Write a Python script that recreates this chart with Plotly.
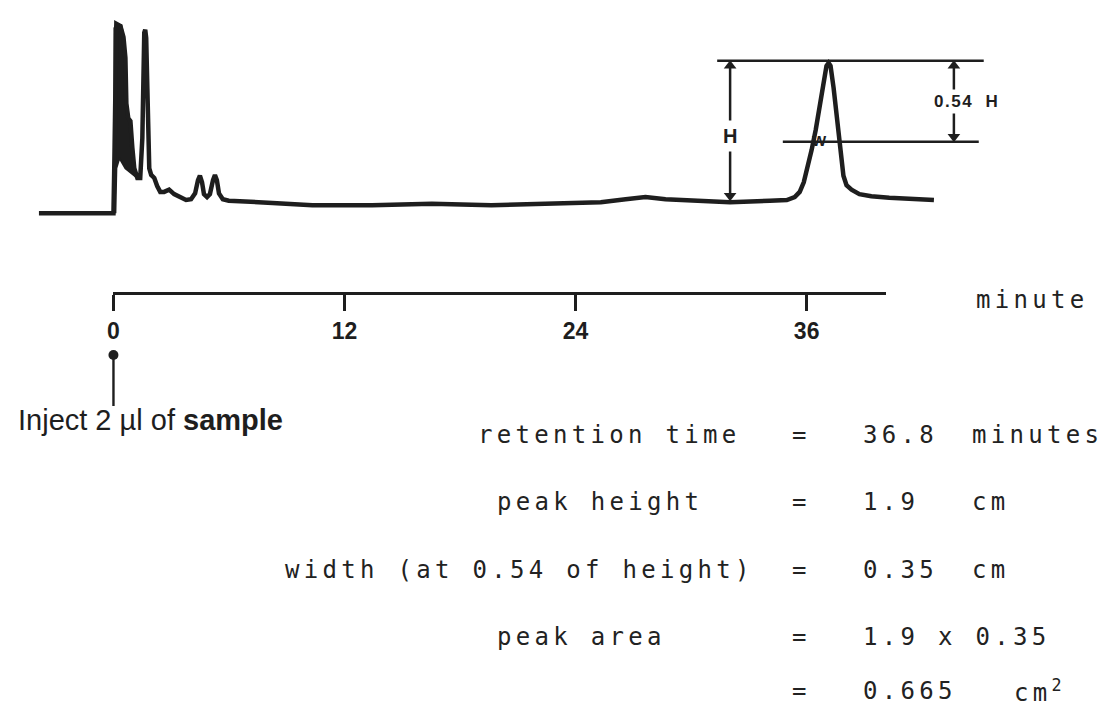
import plotly.graph_objects as go

# ---------------- data ----------------
# chromatogram trace: retention time (minutes) vs recorder response (cm of chart)
time_min = [-3.87, 0.00, 0.05, 0.10, 0.15, 0.36, 0.52, 0.62, 0.67, 0.77,
            0.88, 0.98, 1.08, 1.24, 1.39, 1.50, 1.55, 1.60, 1.65, 1.70,
            1.76, 1.81, 1.86, 1.96, 2.12, 2.27, 2.43, 2.63, 2.89, 3.15,
            3.46, 3.77, 4.03, 4.24, 4.39, 4.49, 4.60, 4.70, 4.86, 5.01,
            5.17, 5.27, 5.37, 5.48, 5.68, 5.99, 8.26, 10.33, 13.43, 16.53,
            19.63, 22.73, 25.31, 26.60, 27.63, 28.67, 29.96, 32.02, 34.09, 34.97,
            35.38, 35.64, 35.85, 36.05, 36.26, 36.47, 36.67, 36.88, 37.03, 37.14,
            37.24, 37.40, 37.55, 37.71, 37.81, 37.91, 38.07, 38.33, 38.74, 39.36,
            40.29, 41.32, 42.61]
response_cm = [0.01, 0.01, 0.76, 2.46, 2.58, 2.55, 2.40, 2.12, 1.50, 1.30,
               1.26, 0.90, 0.62, 0.49, 0.49, 1.03, 1.98, 2.46, 2.50, 2.39,
               1.71, 0.90, 0.62, 0.53, 0.49, 0.38, 0.30, 0.30, 0.33, 0.27,
               0.23, 0.19, 0.20, 0.28, 0.46, 0.52, 0.43, 0.27, 0.23, 0.27,
               0.46, 0.53, 0.46, 0.28, 0.20, 0.18, 0.15, 0.12, 0.12, 0.14,
               0.12, 0.14, 0.16, 0.20, 0.23, 0.20, 0.18, 0.16, 0.18, 0.19,
               0.23, 0.30, 0.43, 0.62, 0.87, 1.14, 1.44, 1.78, 2.01, 2.05,
               2.01, 1.71, 1.37, 1.03, 0.76, 0.52, 0.39, 0.33, 0.27, 0.24,
               0.22, 0.20, 0.19]

# outline of the solid, over-inked solvent-peak cluster just after injection
blob_time = [0.05, 0.05, 0.15, 0.41, 0.52, 0.62, 0.67, 0.77, 0.88, 0.98,
             1.08, 1.24, 0.62, 0.31, 0.15, 0.10]
blob_resp = [0.01, 2.52, 2.58, 2.56, 2.42, 2.14, 1.51, 1.30, 1.26, 0.90,
             0.62, 0.49, 0.62, 0.76, 0.62, 0.01]

tick_minutes = [0, 12, 24, 36]
tick_labels = ["0", "12", "24", "36"]

peak_top_cm = 2.08        # level of the peak maximum
peak_base_cm = 0.18       # baseline under the peak
half_level_cm = 0.98      # level at which the width is measured

result_labels = ["retention time", "peak height", "width (at 0.54 of height)", "peak area", ""]
result_values = ["36.8", "1.9", "0.35", "1.9 x 0.35", "0.665"]
result_units = ["minutes", "cm", "cm", "", "cm<sup>2</sup>"]

inject_text = "Inject 2 \u00b5l of <b>sample</b>"
axis_unit = "minute"

# ---------------- geometry / styling ----------------
W, H = 1110, 706
X0_PX, PX_PER_MIN = 100.0, 19.36      # where 0 min sits, scale of the time axis
Y0_PX, PX_PER_CM = 206.0, 73.7        # zero-response level, scale of response
AXIS_Y_PX, AXIS_END_PX = 285.0, 877.0
INK = "#1e1e1e"


def tx(px):
    return (px - X0_PX) / PX_PER_MIN


def sy(py):
    return (Y0_PX - py) / PX_PER_CM


def paper(px, py):
    return px / W, 1 - py / H


fig = go.Figure()
fig.add_trace(go.Scatter(x=blob_time, y=blob_resp, mode="lines", fill="toself",
                         fillcolor=INK, line=dict(color=INK, width=2),
                         showlegend=False, hoverinfo="skip"))
fig.add_trace(go.Scatter(x=time_min, y=response_cm, mode="lines",
                         line=dict(color=INK, width=4.5),
                         showlegend=False, hoverinfo="skip"))
# carrier trace for the time axis
fig.add_trace(go.Scatter(x=tick_minutes, y=[None] * len(tick_minutes), xaxis="x2", yaxis="y",
                         mode="markers", showlegend=False, hoverinfo="skip"))

hx = tx(720)      # H dimension line
fx = tx(945)      # 0.54 H dimension line
d = 5 / PX_PER_CM  # half arrowhead height in data units

shapes = [
    dict(type="line", xref="x", yref="y", x0=tx(707), x1=tx(975),
         y0=peak_top_cm, y1=peak_top_cm, line=dict(color=INK, width=2.5)),
    dict(type="line", xref="x", yref="y", x0=tx(773), x1=tx(970),
         y0=half_level_cm, y1=half_level_cm, line=dict(color=INK, width=2.5)),
    dict(type="line", xref="x", yref="y", x0=hx, x1=hx,
         y0=peak_base_cm + d, y1=peak_top_cm - d, line=dict(color=INK, width=2.5)),
    dict(type="line", xref="x", yref="y", x0=fx, x1=fx,
         y0=half_level_cm + d, y1=peak_top_cm - d, line=dict(color=INK, width=2.5)),
    # injection marker line at time zero
    dict(type="line", xref="x", yref="y", x0=tick_minutes[0], x1=tick_minutes[0],
         y0=sy(398), y1=sy(348), line=dict(color=INK, width=2.4)),
]

# arrowheads / injection dot
fig.add_trace(go.Scatter(
    x=[hx, hx, fx, fx, tick_minutes[0]],
    y=[peak_top_cm - d, peak_base_cm + d, peak_top_cm - d, half_level_cm + d, sy(347)],
    mode="markers",
    marker=dict(symbol=["triangle-up", "triangle-down", "triangle-up", "triangle-down", "circle"],
                size=[11, 11, 11, 11, 10], color=INK, opacity=1, line=dict(width=0)),
    showlegend=False, hoverinfo="skip"))

annotations = []
annotations.append(dict(x=hx, y=sy(128), xref="x", yref="y", text="H", showarrow=False,
                        bgcolor="white", borderpad=4,
                        font=dict(family="Liberation Sans", size=20, color=INK, weight="bold")))
annotations.append(dict(x=tx(958), y=sy(93), xref="x", yref="y",
                        text='<span style="letter-spacing:1.5px">0.54\u00a0\u00a0H</span>',
                        showarrow=False, bgcolor="white", borderpad=2,
                        font=dict(family="Liberation Sans", size=17, color=INK, weight="bold")))
annotations.append(dict(x=tx(810), y=sy(132), xref="x", yref="y", text="W", showarrow=False,
                        font=dict(family="Liberation Sans", size=15, color=INK, weight="bold")))

px_, py_ = paper(2, 412)
annotations.append(dict(x=px_, y=py_, xref="paper", yref="paper", xanchor="left",
                        yanchor="middle", text=inject_text, showarrow=False,
                        font=dict(family="Liberation Sans", size=29, color=INK)))


def mono(s):
    return '<span style="letter-spacing:4.3px">' + s + "</span>"


MONO = dict(family="DejaVu Sans Mono", size=24, color="#222222")

px_, py_ = paper(965, 292)
annotations.append(dict(x=px_, y=py_, xref="paper", yref="paper", xanchor="left",
                        yanchor="middle", text=mono(axis_unit), showarrow=False, font=MONO))

line_y = [427, 494, 562, 629, 683]
label_x = [466, 485, 271, 485, 485]
unit_x = [962, 962, 962, 962, 1004]
for i in range(len(result_values)):
    yy = paper(0, line_y[i])[1]
    if result_labels[i]:
        annotations.append(dict(x=label_x[i] / W, y=yy, xref="paper", yref="paper",
                                xanchor="left", yanchor="middle", showarrow=False,
                                text=mono(result_labels[i]), font=MONO, borderpad=0))
    annotations.append(dict(x=789 / W, y=yy, xref="paper", yref="paper", xanchor="center",
                            yanchor="middle", showarrow=False, text="=", font=MONO,
                            borderpad=0))
    annotations.append(dict(x=853 / W, y=yy, xref="paper", yref="paper", xanchor="left",
                            yanchor="middle", showarrow=False, text=mono(result_values[i]),
                            font=MONO, borderpad=0))
    if result_units[i]:
        annotations.append(dict(x=unit_x[i] / W, y=yy, xref="paper", yref="paper",
                                xanchor="left", yanchor="middle", showarrow=False,
                                text=mono(result_units[i]), font=MONO, borderpad=0))

fig.update_layout(
    width=W, height=H,
    margin=dict(l=0, r=0, t=0, b=0),
    paper_bgcolor="white", plot_bgcolor="rgba(0,0,0,0)",
    showlegend=False,
    xaxis=dict(range=[tx(0), tx(W)], domain=[0, 1], visible=False, fixedrange=True),
    yaxis=dict(range=[sy(H), sy(0)], domain=[0, 1], visible=False, fixedrange=True),
    xaxis2=dict(domain=[X0_PX / W, AXIS_END_PX / W], range=[0, tx(AXIS_END_PX)],
                anchor="free", position=1 - AXIS_Y_PX / H, side="bottom",
                showline=True, linewidth=3, linecolor=INK,
                ticks="outside", ticklen=16, tickwidth=3, tickcolor=INK,
                tickvals=tick_minutes, ticktext=tick_labels,
                tickfont=dict(family="Liberation Sans", size=23, color=INK, weight="bold"),
                ticklabelstandoff=0,
                showgrid=False, zeroline=False, fixedrange=True),
    shapes=shapes,
    annotations=annotations,
)

fig.write_html("out.html")
